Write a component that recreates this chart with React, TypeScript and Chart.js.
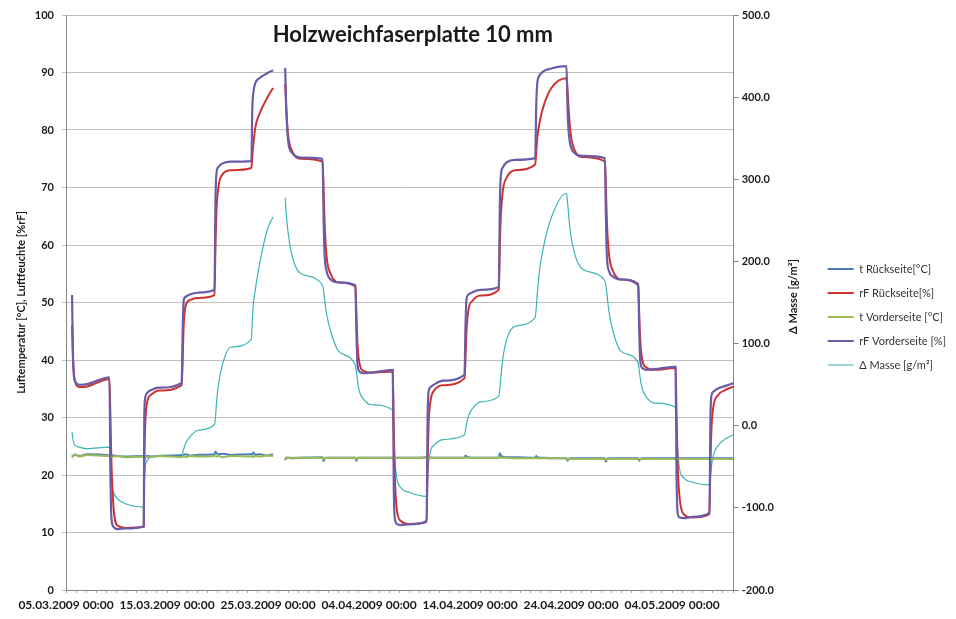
import React, { useEffect, useRef } from "react";
import { Chart, registerables } from "chart.js";

Chart.register(...registerables);

// days since 05.03.2009 00:00
const startDateUTC = Date.UTC(2009, 2, 5);

const days = [
  0.6, 0.7, 0.9, 1.3, 2.1, 4.3,
  4.4, 4.5, 4.7, 5.1, 5.9, 7.7,
  7.75, 7.85, 8.05, 8.45, 9.25, 11.45,
  11.55, 11.65, 11.85, 12.25, 13.05, 14.7,
  14.8, 14.9, 15.1, 15.5, 16.3, 18.35,
  18.45, 18.55, 18.75, 19.15, 19.95, 20.5,
  21.1,
  21.7, 21.8, 22.0, 22.4, 23.2, 25.4,
  25.5, 25.6, 25.8, 26.2, 27.0, 28.65,
  28.75, 28.85, 29.05, 29.45, 30.25, 32.35,
  32.45, 32.55, 32.75, 33.15, 33.95, 35.7,
  35.8, 35.9, 36.1, 36.5, 37.3, 39.45,
  39.55, 39.65, 39.85, 40.25, 41.05, 42.85,
  42.95, 43.05, 43.25, 43.65, 44.45, 46.45,
  46.55, 46.65, 46.85, 47.25, 48.05, 49.55,
  49.65, 49.75, 49.95, 50.35, 51.15, 53.35,
  53.45, 53.55, 53.75, 54.15, 54.95, 56.65,
  56.75, 56.85, 57.05, 57.45, 58.25, 60.35,
  60.45, 60.55, 60.75, 61.15, 61.95, 63.7,
  63.8, 63.9, 64.1, 64.5, 65.3, 66.1,
];

const tRueckseite = [
  23.2, 23.4, 23.5, 23.3, 23.6, 23.4,
  23.0, 23.3, 23.4, 23.3, 23.2, 23.3,
  22.8, 23.1, 23.3, 23.2, 23.3, 23.4,
  23.3, 23.5, 23.6, 23.4, 23.5, 23.6,
  24.1, 23.8, 23.6, 23.7, 23.5, 23.6,
  23.6, 23.9, 23.5, 23.6, 23.4, 23.6,
  null,
  22.6, 23.0, 23.0, 22.9, 23.0, 23.1,
  22.4, 22.9, 23.0, 23.0, 23.0, 23.0,
  22.5, 22.9, 23.0, 23.0, 23.0, 23.0,
  22.8, 23.0, 23.0, 23.0, 23.0, 23.1,
  23.2, 23.1, 23.0, 23.0, 23.0, 23.0,
  23.4, 23.2, 23.1, 23.0, 23.0, 23.0,
  23.8, 23.4, 23.2, 23.1, 23.1, 23.0,
  23.3, 23.1, 23.0, 23.0, 22.9, 22.9,
  22.5, 22.8, 22.9, 22.9, 22.9, 22.9,
  22.3, 22.8, 22.9, 22.9, 22.9, 22.9,
  22.5, 22.8, 22.9, 22.9, 22.9, 22.9,
  22.7, 22.9, 22.9, 22.9, 22.9, 22.9,
  23.0, 22.9, 22.9, 22.9, 22.9, 22.9,
];

const rfRueckseite = [
  46, 40, 36.2, 35.3, 35.4, 36.7,
  30, 22, 14.5, 11.2, 10.8, 11.0,
  22, 29, 32.8, 34.0, 34.7, 35.6,
  40, 46, 49.5, 50.4, 50.8, 51.3,
  60, 66, 70.2, 72.3, 73.0, 73.4,
  75.5, 77.5, 80.5, 82.8, 85.7, 87.3,
  null,
  88, 84, 79, 76.3, 75, 74.5,
  70, 64, 58, 55, 53.5, 52.8,
  48, 43, 39.5, 38.1, 37.8, 38.0,
  28, 20, 14, 12, 11.5, 11.8,
  22, 29, 33, 34.8, 35.6, 36.8,
  40, 45, 48.8, 50.3, 51.2, 52.2,
  60, 65, 69.5, 71.8, 73, 74.0,
  76, 78.5, 81, 84, 87.3, 89.0,
  87, 84, 79.5, 76.5, 75.3, 74.5,
  70, 64, 58.5, 55.5, 54, 53.0,
  48, 43.5, 40, 38.7, 38.3, 38.6,
  30, 22, 16, 13.2, 12.6, 13.2,
  22, 28, 32, 33.8, 34.8, 35.4,
];

const tVorderseite = [
  23.0, 23.3, 23.6, 23.2, 23.5, 23.3,
  23.3, 23.1, 23.2, 23.3, 23.1, 23.2,
  23.0, 23.2, 23.1, 23.2, 23.3, 23.1,
  23.2, 23.3, 23.1, 23.3, 23.2, 23.3,
  23.4, 23.2, 23.3, 23.1, 23.3, 23.2,
  23.3, 23.1, 23.3, 23.2, 23.4, 23.3,
  null,
  22.8, 23.0, 23.0, 23.0, 23.0, 23.0,
  22.7, 23.0, 23.0, 23.0, 23.0, 23.0,
  22.8, 23.0, 23.0, 23.0, 23.0, 23.0,
  22.9, 23.0, 23.0, 23.0, 23.0, 23.0,
  23.0, 23.0, 23.0, 23.0, 23.0, 23.0,
  23.1, 23.0, 23.0, 23.0, 23.0, 23.0,
  23.2, 23.0, 23.0, 23.0, 22.9, 22.9,
  23.0, 22.9, 22.9, 22.9, 22.9, 22.9,
  22.7, 22.8, 22.8, 22.8, 22.8, 22.8,
  22.6, 22.8, 22.8, 22.8, 22.8, 22.8,
  22.7, 22.8, 22.8, 22.8, 22.8, 22.8,
  22.8, 22.8, 22.8, 22.8, 22.8, 22.8,
  22.9, 22.8, 22.8, 22.8, 22.8, 22.8,
];

const rfVorderseite = [
  51.3, 40, 36.3, 35.7, 35.8, 37.0,
  20, 12.5, 11.0, 10.6, 10.7, 11.1,
  30, 33.5, 34.3, 34.8, 35.2, 36.0,
  45, 50.3, 51.0, 51.4, 51.7, 52.2,
  68, 72.5, 73.6, 74.2, 74.5, 74.6,
  84, 86.5, 88.2, 89.0, 89.9, 90.4,
  null,
  90.8, 84, 78, 76, 75.2, 75.0,
  65, 58.5, 55.5, 54, 53.5, 53.0,
  45, 39.5, 38, 37.7, 37.8, 38.3,
  18, 12.5, 11.5, 11.3, 11.4, 12.0,
  30, 34.5, 35.3, 35.8, 36.4, 37.4,
  46, 50.5, 51.4, 51.8, 52.2, 52.7,
  67, 72, 73.5, 74.4, 74.8, 75.1,
  84, 88, 89.4, 90.2, 90.7, 91.1,
  84, 80, 77.3, 76, 75.5, 75.1,
  65, 58, 55.5, 54.5, 54, 53.2,
  45, 40, 38.6, 38.3, 38.4, 38.8,
  19, 13.5, 12.6, 12.5, 12.7, 13.4,
  30, 33.8, 34.5, 35, 35.5, 36.0,
];

// g/m² (right axis)
const deltaMasse = [
  -7.5, -18, -24, -26, -28, -26,
  -46, -67, -81, -89, -95, -99,
  -74, -50, -42, -38, -36, -35.5,
  -33, -28.5, -21.5, -14, -5.5, 1.5,
  10, 27.5, 50.5, 75, 95.5, 105,
  129, 148.5, 166, 196, 239.5, 254,
  null,
  277.5, 258.5, 234, 206, 185.5, 171,
  164, 153.5, 136, 115, 90.5, 73.5,
  66, 55.5, 41.5, 32.5, 25.5, 19,
  -4, -39, -63.5, -75.5, -81, -86,
  -67, -46, -30, -23, -17, -11,
  -5.5, 1.5, 12, 21, 29, 36,
  45, 59, 82, 106, 121, 132,
  143, 159, 186.5, 216.5, 253.5, 283,
  272.5, 258.5, 234, 209.5, 190.5, 176.5,
  171, 160.5, 139.5, 115, 90.5, 76.5,
  68, 57.5, 45, 35, 27.5, 22.5,
  -4, -28.5, -53, -63.5, -68.5, -72,
  -63.5, -49.5, -35.5, -25, -16, -11,
];

const seriesNames = [
  "t Rückseite[°C]",
  "rF Rückseite[%]",
  "t Vorderseite [°C]",
  "rF Vorderseite [%]",
  "Δ Masse [g/m²]",
];

const chartTitle = "Holzweichfaserplatte 10 mm";
const leftAxisTitle = "Luftemperatur [°C], Luftfeuchte [%rF]";
const rightAxisTitle = "Δ Masse [g/m²]";

const xMin = 0;
const xMax = 66.1;

function fmtDate(v: number): string {
  const d = new Date(startDateUTC + Math.round(v) * 86400000);
  const dd = String(d.getUTCDate()).padStart(2, "0");
  const mm = String(d.getUTCMonth() + 1).padStart(2, "0");
  return `${dd}.${mm}.${d.getUTCFullYear()} 00:00`;
}

const toPoints = (vals: (number | null)[]) => days.map((d, i) => ({ x: d, y: vals[i] }));

const overlayText = {
  id: "overlayText",
  afterDraw(chart: any) {
    const { ctx, chartArea } = chart;
    ctx.save();
    ctx.fillStyle = "#1a1a1a";
    ctx.textAlign = "center";
    ctx.textBaseline = "middle";
    ctx.font = "bold 22px Lato";
    ctx.fillText(chartTitle, (chartArea.left + chartArea.right) / 2 + 13, chartArea.top + 20);
    ctx.translate(chartArea.right + 60, (chartArea.top + chartArea.bottom) / 2 - 6);
    ctx.rotate(-Math.PI / 2);
    ctx.font = "bold 11px Lato";
    ctx.fillText(rightAxisTitle, 0, 0);
    ctx.restore();
  },
};

export default function App() {
  const ref = useRef<HTMLCanvasElement | null>(null);
  useEffect(() => {
    if (!ref.current) return;
    const common = { pointRadius: 0, pointHoverRadius: 0, fill: false, cubicInterpolationMode: "monotone" as const, spanGaps: false };
    const chart = new Chart(ref.current, {
      type: "line",
      data: {
        datasets: [
          { ...common, label: seriesNames[0], data: toPoints(tRueckseite), borderColor: "#4A7EBB", borderWidth: 2, yAxisID: "y", order: 3 },
          { ...common, label: seriesNames[1], data: toPoints(rfRueckseite), borderColor: "#CC3330", borderWidth: 2, yAxisID: "y", order: 2 },
          { ...common, label: seriesNames[2], data: toPoints(tVorderseite), borderColor: "#9BBB59", borderWidth: 2, yAxisID: "y", order: 1 },
          { ...common, label: seriesNames[3], data: toPoints(rfVorderseite), borderColor: "#6B5BA8", borderWidth: 2.2, yAxisID: "y", order: 0 },
          { ...common, label: seriesNames[4], data: toPoints(deltaMasse), borderColor: "#3DB4B4", borderWidth: 1.2, yAxisID: "y1", order: 4 },
        ] as any,
      },
      options: {
        responsive: false,
        animation: false,
        devicePixelRatio: 1,
        parsing: true,
        layout: { padding: { top: 15, left: 0, right: 0, bottom: 0 } },
        plugins: {
          tooltip: { enabled: false },
          title: { display: false },
          legend: {
            position: "right",
            align: "center",
            labels: {
              usePointStyle: true,
              pointStyle: "line",
              pointStyleWidth: 26,
              padding: 13,
              color: "#333",
              font: { family: "Lato", size: 11 },
              sort: (a: any, b: any) => a.datasetIndex - b.datasetIndex,
            },
          },
        },
        scales: {
          x: {
            type: "linear",
            min: xMin,
            max: xMax,
            grid: { drawOnChartArea: false, drawTicks: true, tickLength: 3, color: "#A6A6A6" },
            border: { color: "#868686" },
            ticks: {
              stepSize: 1,
              autoSkip: false,
              maxRotation: 0,
              minRotation: 0,
              padding: 5,
              color: "#1a1a1a",
              font: { family: "Lato", size: 12, weight: "bold" },
              callback: (v: any) => {
                const n = Number(v);
                return Math.abs(n - Math.round(n)) < 1e-6 && Math.round(n) % 10 === 0 ? fmtDate(n) : "";
              },
            },
            afterFit: (s: any) => { s.height = 29; },
          },
          y: {
            position: "left",
            min: 0,
            max: 100,
            grid: { color: "#BFBFBF", tickLength: 4 },
            border: { color: "#868686" },
            ticks: { stepSize: 10, padding: 8, color: "#1a1a1a", font: { family: "Lato", size: 11, weight: "bold" } },
            title: { display: true, text: leftAxisTitle, color: "#1a1a1a", font: { family: "Lato", size: 11, weight: "bold" }, padding: { top: 15, bottom: 0 } },
            afterFit: (s: any) => { s.width = 66; },
          },
          y1: {
            position: "right",
            min: -200,
            max: 500,
            grid: { drawOnChartArea: false, tickLength: 5, color: "#868686" },
            border: { color: "#868686" },
            ticks: {
              stepSize: 100,
              padding: 3,
              color: "#1a1a1a",
              font: { family: "Lato", size: 11, weight: "bold" },
              callback: (v: any) => Number(v).toFixed(1),
            },
            afterFit: (s: any) => { s.width = 81; },
          },
        },
      },
      plugins: [overlayText],
    });
    return () => chart.destroy();
  }, []);
  return (
    <div style={{ position: "fixed", left: 0, top: 0, width: 956, height: 619, background: "#fff" }}>
      <canvas ref={ref} width={956} height={619} style={{ display: "block" }} />
    </div>
  );
}
